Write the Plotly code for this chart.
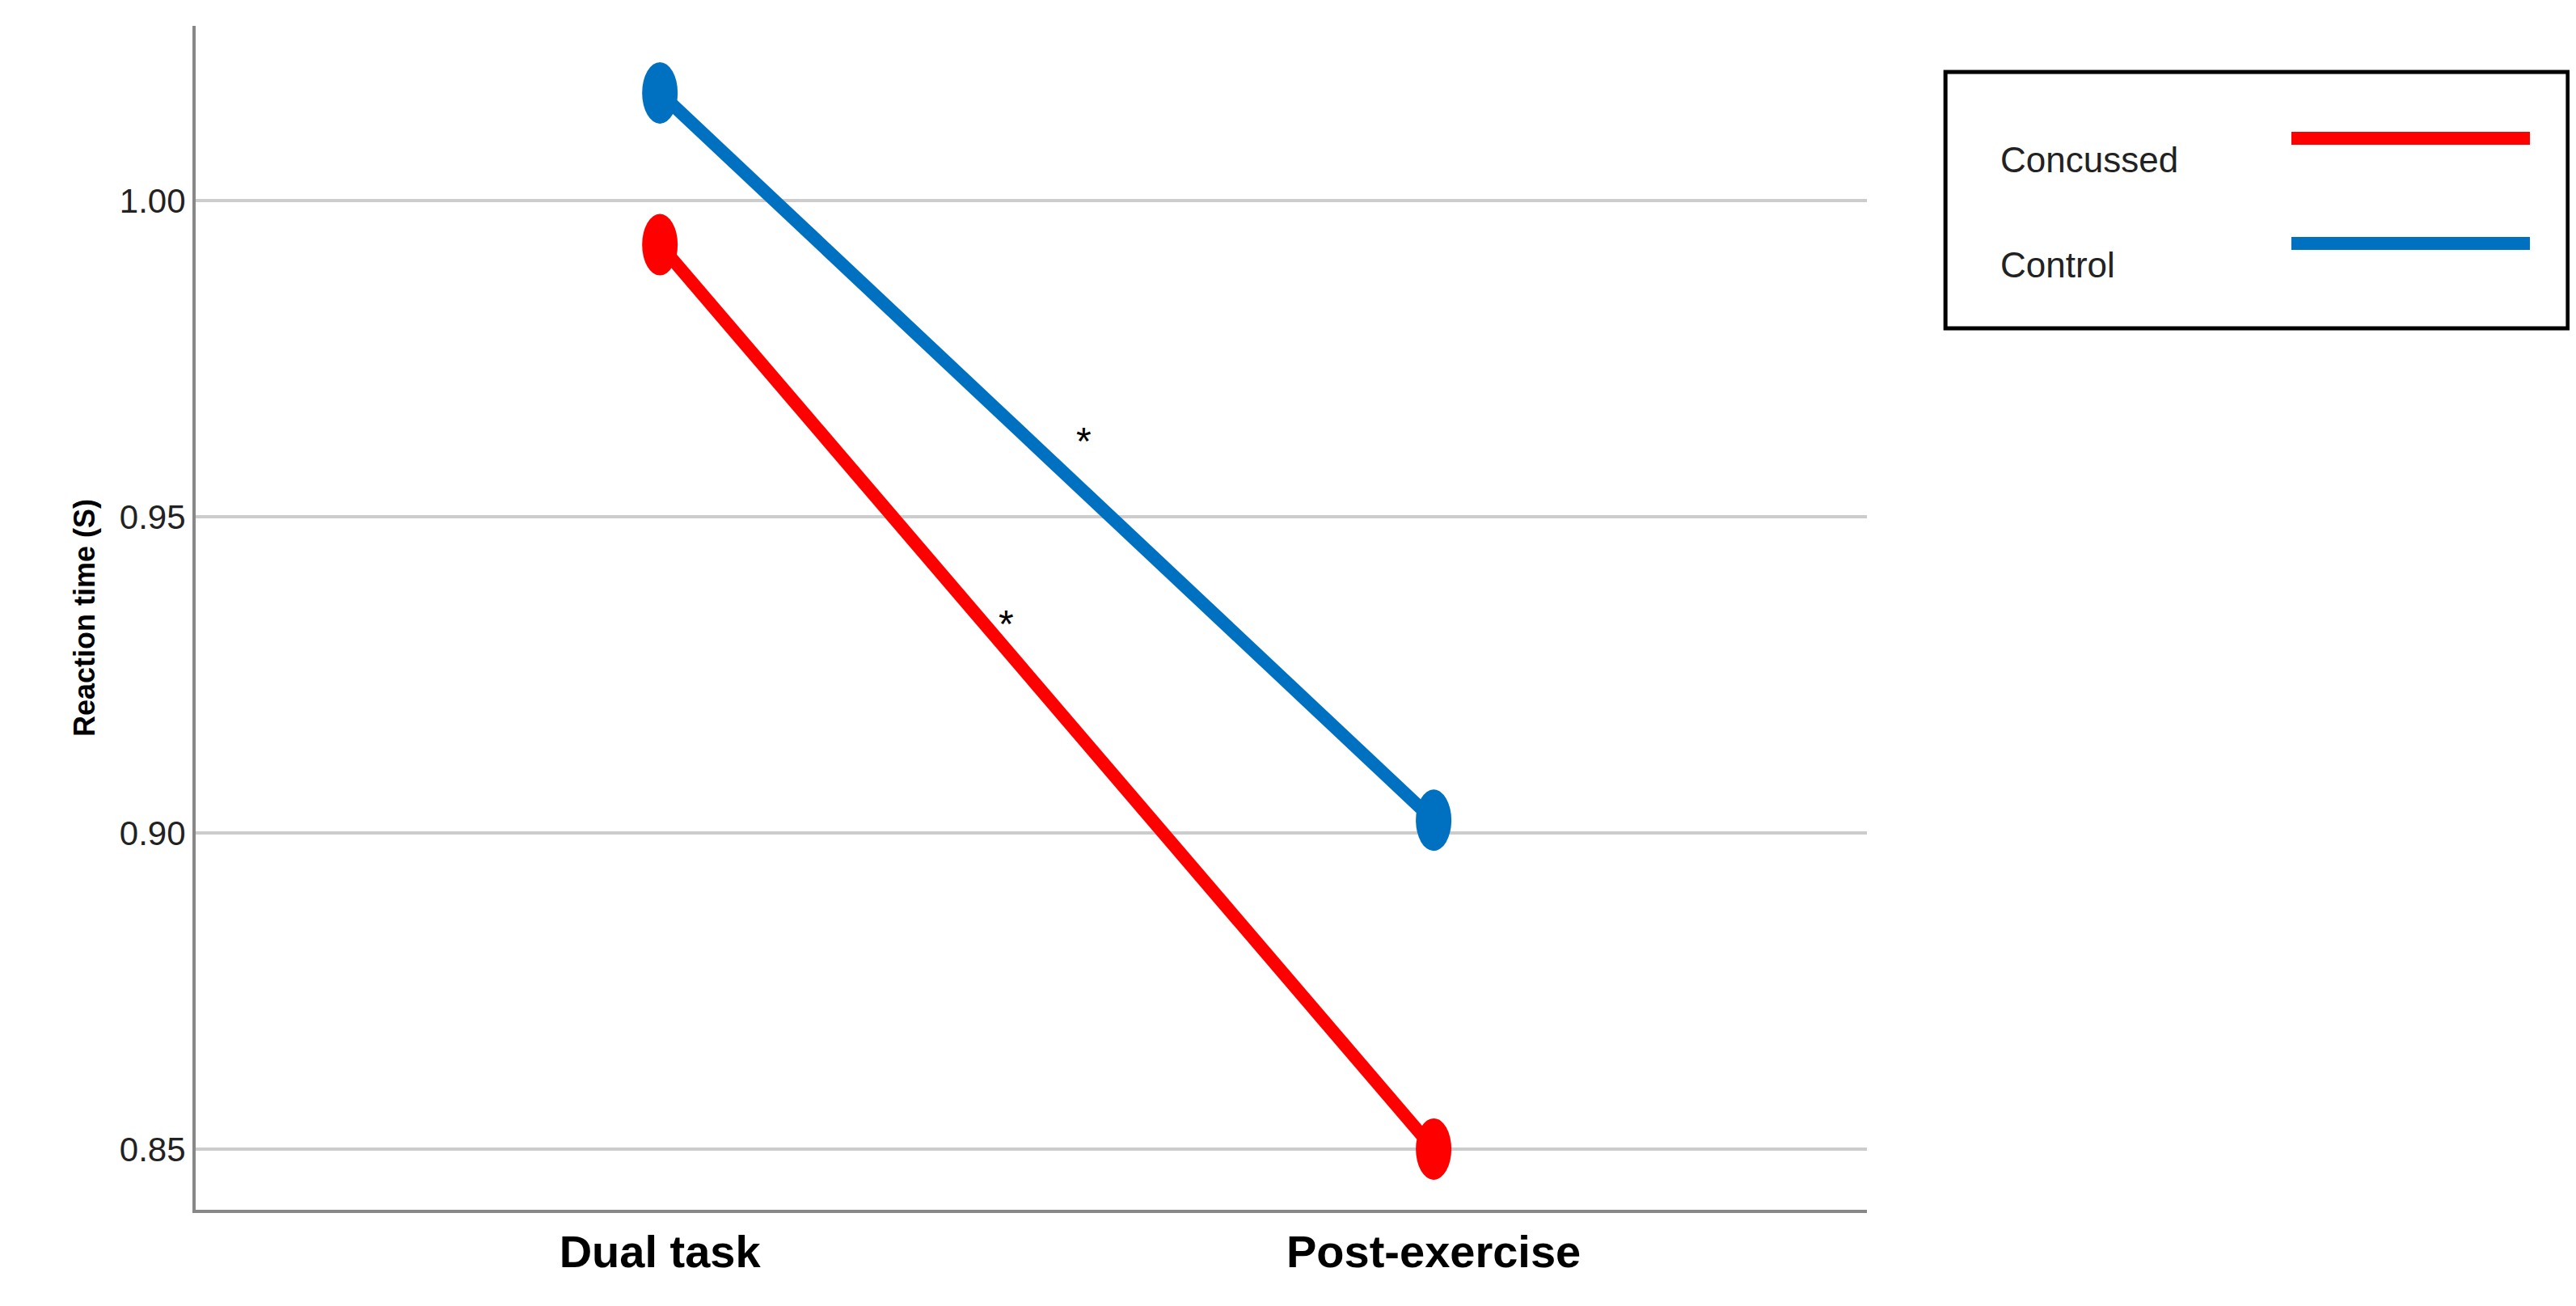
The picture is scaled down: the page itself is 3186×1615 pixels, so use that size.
import plotly.graph_objects as go

categories = ["Dual task", "Post-exercise"]
concussed = [0.993, 0.850]
control = [1.017, 0.902]
series_names = ["Concussed", "Control"]
colors = ["#ff0000", "#0070c0"]
y_ticks = [0.85, 0.90, 0.95, 1.00]
y_tick_labels = ["0.85", "0.90", "0.95", "1.00"]
stars = [(0.448, 0.933), (0.548, 0.962)]

fig = go.Figure()
shapes = []
for name, vals, col in zip(series_names, [concussed, control], colors):
    fig.add_trace(go.Scatter(x=[0, 1], y=vals, mode="lines", line=dict(color=col, width=16),
                             name=name, showlegend=False))
    for i, v in enumerate(vals):
        shapes.append(dict(type="circle", xref="x", yref="y", xsizemode="pixel", ysizemode="pixel",
                           xanchor=i, yanchor=v, x0=-22, x1=22, y0=-38, y1=38,
                           fillcolor=col, line=dict(width=0)))

for sx, sy in stars:
    fig.add_annotation(x=sx, y=sy, text="*", showarrow=False, font=dict(size=48, color="black", family="Liberation Sans"))

# manual legend
shapes.append(dict(type="rect", xref="paper", yref="paper", x0=1.047, x1=1.4194, y0=0.7445, y1=0.961,
                   line=dict(color="black", width=5), fillcolor="white"))
for (name, col, yy) in [("Concussed", colors[0], 0.905), ("Control", colors[1], 0.8163)]:
    shapes.append(dict(type="line", xref="paper", yref="paper", x0=1.254, x1=1.3967, y0=yy, y1=yy,
                       line=dict(color=col, width=16)))
    fig.add_annotation(xref="paper", yref="paper", x=1.0789, y=yy, text=name, showarrow=False,
                       xanchor="left", font=dict(size=44, color="#222", family="Liberation Sans"))

fig.update_layout(
    width=3186, height=1615, paper_bgcolor="white", plot_bgcolor="white",
    margin=dict(l=234, r=885, t=24, b=127), shapes=shapes,
    xaxis=dict(tickvals=[0, 1], ticktext=categories, range=[-0.6, 1.56], showgrid=False,
               showline=True, linecolor="#888", linewidth=4, zeroline=False, ticks="",
               tickfont=dict(size=56, family="Liberation Sans", color="black", weight="bold")),
    yaxis=dict(tickvals=y_ticks, ticktext=y_tick_labels, range=[0.8404, 1.0276], showgrid=True,
               gridcolor="#cccccc", gridwidth=4, showline=True, linecolor="#888", linewidth=4,
               zeroline=False, ticks="", tickfont=dict(size=42, family="Liberation Sans", color="#222"),
               title=dict(text="Reaction time (S)", standoff=20,
                          font=dict(size=36, family="Liberation Sans", color="black", weight="bold"))),
)
fig.write_html("out.html")
